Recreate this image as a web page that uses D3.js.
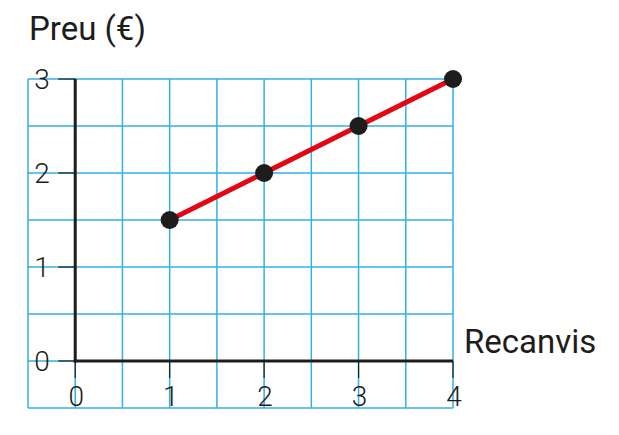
<body style="margin:0"></body>

<script src='https://d3js.org/d3.v7.min.js'></script>
<style>
    svg text {
        font-family: Roboto, sans-serif;
        fill: #1d1d1b;
    }
</style>
<script>

    // Data
    var recanvis = [1, 2, 3, 4];
    var preu = [1.5, 2, 2.5, 3];
    var xTicks = [0, 1, 2, 3, 4];
    var yTicks = [0, 1, 2, 3];
    var gridX = [-0.5, 0, 0.5, 1, 1.5, 2, 2.5, 3, 3.5, 4];
    var gridY = [-0.5, 0, 0.5, 1, 1.5, 2, 2.5, 3];

    var width = 619;
    var height = 435;

    var x = d3.scaleLinear().domain([-0.5, 4]).range([28, 453]);
    var y = d3.scaleLinear().domain([-0.5, 3]).range([408, 79]);

    var svg = d3.select("body")
        .append("svg")
        .attr("width", width)
        .attr("height", height);

    // grid
    svg.selectAll(".gx")
        .data(gridX)
        .enter()
        .append("line")
        .attr("x1", function (d) { return x(d); })
        .attr("x2", function (d) { return x(d); })
        .attr("y1", y(-0.5))
        .attr("y2", y(3))
        .attr("stroke", "#36afe4")
        .attr("stroke-width", 1.5);

    svg.selectAll(".gy")
        .data(gridY)
        .enter()
        .append("line")
        .attr("y1", function (d) { return y(d); })
        .attr("y2", function (d) { return y(d); })
        .attr("x1", x(-0.5))
        .attr("x2", x(4))
        .attr("stroke", "#36afe4")
        .attr("stroke-width", 1.5);

    // ticks
    svg.selectAll(".ty")
        .data(yTicks)
        .enter()
        .append("line")
        .attr("x1", x(0) - 17)
        .attr("x2", x(0))
        .attr("y1", function (d) { return y(d); })
        .attr("y2", function (d) { return y(d); })
        .attr("stroke", "#1d1d1b")
        .attr("stroke-width", 1.2);

    svg.selectAll(".tx")
        .data(xTicks)
        .enter()
        .append("line")
        .attr("x1", function (d) { return x(d); })
        .attr("x2", function (d) { return x(d); })
        .attr("y1", y(0))
        .attr("y2", y(0) + 17)
        .attr("stroke", "#1d1d1b")
        .attr("stroke-width", 1.2);

    // axes
    svg.append("line")
        .attr("x1", x(0)).attr("x2", x(0))
        .attr("y1", y(3)).attr("y2", y(0) + 1.5)
        .attr("stroke", "#1d1d1b")
        .attr("stroke-width", 3);

    svg.append("line")
        .attr("x1", x(0) - 1.5).attr("x2", x(4))
        .attr("y1", y(0)).attr("y2", y(0))
        .attr("stroke", "#1d1d1b")
        .attr("stroke-width", 3);

    // tick labels
    svg.selectAll(".ly")
        .data(yTicks)
        .enter()
        .append("text")
        .attr("x", 42)
        .attr("y", function (d) { return y(d); })
        .attr("dy", "0.36em")
        .style("text-anchor", "middle")
        .style("font-size", "28px")
        .style("font-weight", 300)
        .text(function (d) { return d; });

    svg.selectAll(".lx")
        .data(xTicks)
        .enter()
        .append("text")
        .attr("x", function (d) { return x(d) + 1; })
        .attr("y", y(0) + 45)
        .style("text-anchor", "middle")
        .style("font-size", "28px")
        .style("font-weight", 300)
        .text(function (d) { return d; });

    // line
    var line = d3.line()
        .x(function (d, i) { return x(recanvis[i]); })
        .y(function (d) { return y(d); });

    svg.append("path")
        .datum(preu)
        .attr("d", line)
        .attr("fill", "none")
        .attr("stroke", "#e30613")
        .attr("stroke-width", 5);

    svg.selectAll(".pt")
        .data(preu)
        .enter()
        .append("circle")
        .attr("cx", function (d, i) { return x(recanvis[i]); })
        .attr("cy", function (d) { return y(d); })
        .attr("r", 9)
        .attr("fill", "#1d1d1b");

    // titles
    svg.append("text")
        .attr("x", 29)
        .attr("y", 40)
        .style("text-anchor", "start")
        .style("font-size", "33px")
        .text("Preu (€)");

    svg.append("text")
        .attr("x", 464)
        .attr("y", 353)
        .style("text-anchor", "start")
        .style("font-size", "33px")
        .text("Recanvis");

</script>
